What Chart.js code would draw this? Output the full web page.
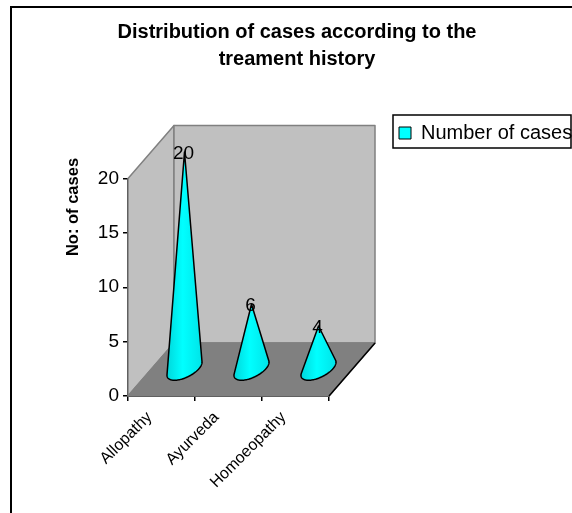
<!DOCTYPE html>
<html>
<head>
<meta charset="utf-8">
<script src="https://cdn.jsdelivr.net/npm/chart.js@4/dist/chart.umd.js"></script>
<style>
    body { margin: 0; background: #fff; }
    canvas { display: block; }
</style>
</head>
<body>
<canvas id="myChart" width="572" height="513"></canvas>
<script>
const titleLines = ['Distribution of cases according to the', 'treament history'];
const categories = ['Allopathy', 'Ayurveda', 'Homoeopathy'];
const seriesName = 'Number of cases';
const caseCounts = [20, 6, 4];
const yTicks = [0, 5, 10, 15, 20];
const yAxisTitle = 'No: of cases';

const FONT = '"Liberation Sans", Arial, sans-serif';
// how far the back wall sits from the front plane
const depthX = 46;
const depthY = 53;

function conePath(ctx, bar) {
    const cx = bar.x + depthX / 2;
    const cy = bar.base - depthY / 2;
    const apexY = bar.y - depthY / 2;
    const a = bar.width / 2;
    const b = depthX * 0.217;
    const c = depthY * 0.217;
    const pts = [];
    for (let i = 0; i < 144; i++) {
        const t = i / 144 * Math.PI * 2;
        pts.push([cx + a * Math.cos(t) + b * Math.sin(t), cy - c * Math.sin(t)]);
    }
    // silhouette: the two tangents from the apex to the base ellipse
    let left = 0, right = 0, bestL = -Infinity, bestR = Infinity;
    pts.forEach((p, i) => {
        const ang = Math.atan2(cx - p[0], p[1] - apexY);
        if (ang > bestL) { bestL = ang; left = i; }
        if (ang < bestR) { bestR = ang; right = i; }
    });
    ctx.beginPath();
    ctx.moveTo(cx, apexY);
    for (let i = left; ; i = (i + 1) % 144) {
        ctx.lineTo(pts[i][0], pts[i][1]);
        if (i === right) break;
    }
    ctx.closePath();
    return [pts[left][0], pts[right][0]];
}

const scene3d = {
    id: 'scene3d',
    afterLayout(chart) {
        // legend and title sit elsewhere than the layout boxes allow
        const legend = chart.legend;
        const shift = 391 - legend.left;
        legend.left += shift;
        legend.right += shift;
        legend.top = 115;
        legend.bottom = 148;
        chart.titleBlock.left -= 17.5;
        chart.titleBlock.right -= 17.5;
    },
    beforeDraw(chart) {
        const ctx = chart.ctx;
        ctx.save();
        // outer frame runs off the right and bottom of the picture
        ctx.strokeStyle = '#000';
        ctx.lineWidth = 2;
        ctx.strokeRect(11, 7, chart.width + 20, chart.height + 20);
        ctx.restore();
    },
    beforeDatasetsDraw(chart) {
        const ctx = chart.ctx;
        const x0 = chart.scales.x.left;
        const x1 = chart.scales.x.right;
        const yBase = chart.scales.y.getPixelForValue(0);
        const yTop = chart.scales.y.getPixelForValue(yTicks[yTicks.length - 1]);
        ctx.save();
        ctx.lineWidth = 1.5;
        ctx.strokeStyle = '#808080';
        ctx.lineJoin = 'round';
        const poly = (pts, fill) => {
            ctx.beginPath();
            pts.forEach((p, i) => i ? ctx.lineTo(p[0], p[1]) : ctx.moveTo(p[0], p[1]));
            ctx.closePath();
            ctx.fillStyle = fill;
            ctx.fill();
            ctx.stroke();
        };
        poly([[x0, yBase], [x0, yTop], [x0 + depthX, yTop - depthY], [x0 + depthX, yBase - depthY]], '#c0c0c0');
        poly([[x0 + depthX, yTop - depthY], [x1 + depthX, yTop - depthY], [x1 + depthX, yBase - depthY], [x0 + depthX, yBase - depthY]], '#c0c0c0');
        poly([[x0, yBase], [x0 + depthX, yBase - depthY], [x1 + depthX, yBase - depthY], [x1, yBase]], '#808080');
        ctx.beginPath();
        ctx.moveTo(x1, yBase);
        ctx.lineTo(x1 + depthX, yBase - depthY);
        ctx.strokeStyle = '#000';
        ctx.stroke();
        ctx.restore();
    },
    beforeDatasetDraw(chart, args) {
        const ctx = chart.ctx;
        ctx.save();
        args.meta.data.forEach(bar => {
            const edges = conePath(ctx, bar);
            const g = ctx.createLinearGradient(edges[0], 0, edges[1], 0);
            g.addColorStop(0, '#00d8dc');
            g.addColorStop(0.45, '#00ffff');
            g.addColorStop(1, '#00e4e8');
            ctx.fillStyle = g;
            ctx.fill();
            ctx.strokeStyle = '#000';
            ctx.lineWidth = 1.5;
            ctx.lineJoin = 'round';
            ctx.stroke();
        });
        ctx.restore();
        return false;
    },
    afterDatasetsDraw(chart) {
        const ctx = chart.ctx;
        const meta = chart.getDatasetMeta(0);
        ctx.save();
        ctx.font = '19px ' + FONT;
        ctx.fillStyle = '#000';
        ctx.textAlign = 'center';
        ctx.textBaseline = 'middle';
        meta.data.forEach((bar, i) => {
            ctx.fillText(String(caseCounts[i]), bar.x + depthX / 2 - 1, bar.y - depthY / 2 + 2);
        });
        ctx.restore();
    },
    afterDraw(chart) {
        const ctx = chart.ctx;
        ctx.save();
        ctx.strokeStyle = '#000';
        ctx.lineWidth = 1.5;
        ctx.strokeRect(393, 115, chart.width - 394, 33);
        // axis title sits above the middle of the axis in the original
        ctx.translate(73, 207);
        ctx.rotate(-Math.PI / 2);
        ctx.font = 'bold 16.5px ' + FONT;
        ctx.fillStyle = '#000';
        ctx.textAlign = 'center';
        ctx.textBaseline = 'middle';
        ctx.fillText(yAxisTitle, 0, 0);
        ctx.restore();
    }
};

document.addEventListener('DOMContentLoaded', function () {
    const ctx = document.getElementById('myChart').getContext('2d');
    new Chart(ctx, {
        type: 'bar',
        data: {
            labels: categories,
            datasets: [{
                label: seriesName,
                data: caseCounts,
                backgroundColor: '#00ffff',
                borderColor: '#000',
                borderWidth: 1,
                barPercentage: 0.43,
                categoryPercentage: 1
            }]
        },
        options: {
            responsive: false,
            animation: false,
            layout: { padding: { left: 57, right: 0, top: 0, bottom: 0 } },
            scales: {
                x: {
                    afterFit(scale) { scale.height = 117; },
                    border: { color: '#000', width: 2 },
                    grid: { offset: true, drawOnChartArea: false, color: '#000', tickLength: 5, lineWidth: 1.5 },
                    ticks: {
                        color: '#000',
                        font: { family: FONT, size: 16 },
                        minRotation: 45,
                        maxRotation: 45,
                        labelOffset: -12,
                        padding: 7
                    }
                },
                y: {
                    min: 0,
                    max: 20,
                    afterFit(scale) { scale.width = 71; },
                    afterBuildTicks(scale) { scale.ticks = yTicks.map(v => ({ value: v })); },
                    border: { color: '#000', width: 2 },
                    grid: { drawOnChartArea: false, color: '#000', tickLength: 5, lineWidth: 1.5 },
                    ticks: {
                        color: '#000',
                        font: { family: FONT, size: 19 },
                        padding: 4
                    }
                }
            },
            plugins: {
                title: {
                    display: true,
                    text: titleLines,
                    color: '#000',
                    font: { family: FONT, size: 20, weight: 'bold', lineHeight: 1.35 },
                    padding: { top: 19, bottom: 105.5 }
                },
                legend: {
                    position: 'right',
                    align: 'start',
                    maxWidth: 243,
                    labels: {
                        color: '#000',
                        boxWidth: 12,
                        boxHeight: 12,
                        padding: 8,
                        font: { family: FONT, size: 20 }
                    }
                },
                tooltip: { enabled: false }
            }
        },
        plugins: [
            {
                // the legend reserves the gap left of it as well, so the plot ends where it should
                id: 'legendGap',
                afterInit(chart) {
                    const fit = chart.legend.fit;
                    chart.legend.fit = function () {
                        fit.call(this);
                        this.width = 243;
                    };
                }
            },
            scene3d
        ]
    });
});
</script>
</body>
</html>
